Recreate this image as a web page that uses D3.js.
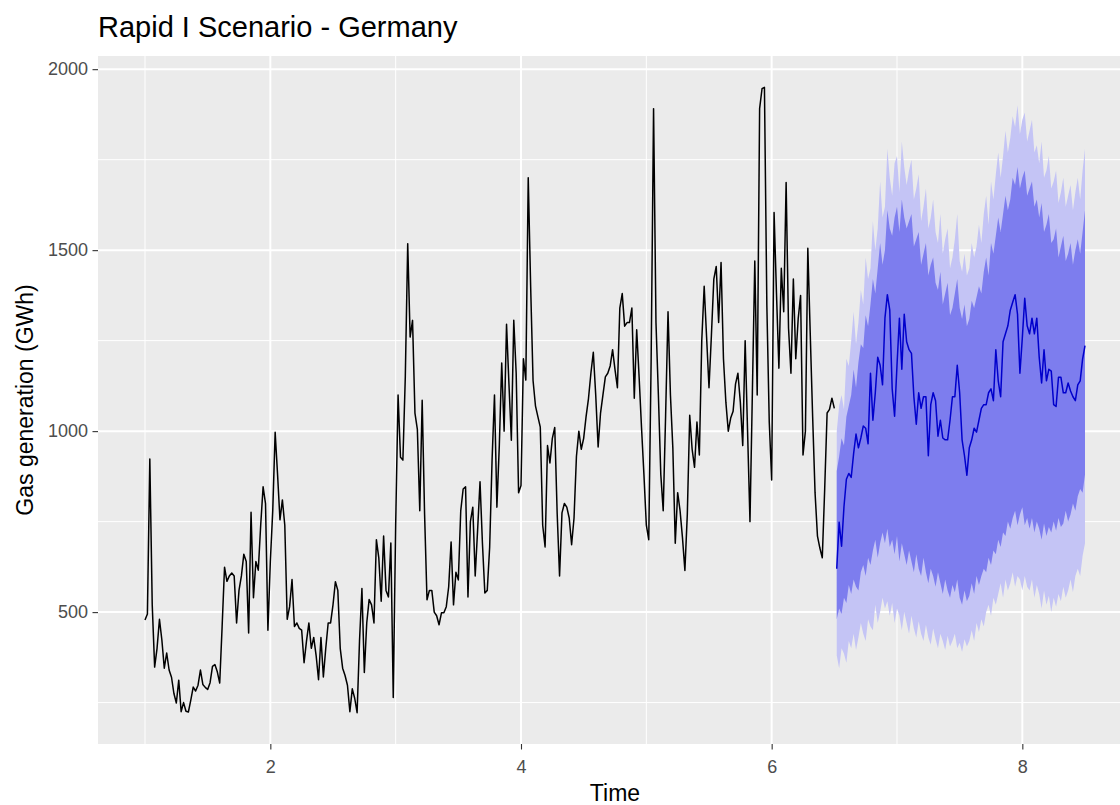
<!DOCTYPE html>
<html>
<head>
<meta charset="utf-8">
<script src="https://cdn.jsdelivr.net/npm/d3@7"></script>
<style>
  body { margin: 0; background: #ffffff; }
  svg { display: block; }
  text { font-family: "Liberation Sans", Arial, Helvetica, sans-serif; }
</style>
</head>
<body>
<svg id="chart" width="1120" height="805"></svg>
<script>
// Weekly gas generation series (frequency 52, starting at time 1)
const seriesStart = 1;
const seriesFreq = 52;

const gasHistory = [
  478, 495, 923, 520, 348, 400, 480, 423, 345, 387,
  340, 320, 275, 249, 312, 225, 250, 226, 224, 257,
  293, 282, 298, 340, 300, 292, 286, 305, 350, 355,
  335, 304, 460, 624, 585, 600, 608, 600, 470, 560,
  600, 660, 640, 442, 776, 540, 640, 616,
  740, 846, 800, 450, 640, 780, 997, 880, 755, 810,
  740, 480, 515, 590, 460, 470, 455, 450, 360, 420,
  470, 400, 430, 380, 313, 430, 321, 400, 470, 470,
  520, 584, 560, 400, 345, 325, 298, 225, 288, 262,
  222, 420, 565, 333, 470, 535, 520, 470,
  700, 650, 530, 710, 560, 542, 691, 264, 740, 1100,
  928, 920, 1150, 1518, 1260, 1306, 1050, 1005, 780, 1085,
  770, 534, 560, 560, 500, 490, 465, 498, 498, 515,
  570, 694, 520, 610, 589, 780, 840, 846, 542, 750,
  790, 600, 727, 860, 690, 553, 560, 680,
  920, 1100, 790, 960, 1188, 1000, 1295, 1130, 975, 1306,
  1160, 830, 850, 1200, 1141, 1700, 1400, 1140, 1070, 1040,
  1011, 740, 680, 960, 912, 980, 1010, 774, 600, 774,
  800, 790, 760, 686, 760, 930, 1000, 950, 980, 1040,
  1090, 1160, 1218, 1100, 956, 1050, 1100,
  1150, 1160, 1180, 1225, 1170, 1120, 1340, 1380, 1290, 1300,
  1300, 1340, 1091, 1280, 1150, 1010, 880, 740, 700, 1200,
  1891, 1300, 1100, 880, 780, 1044, 1330, 1100, 953, 690,
  830, 780, 705, 615, 770, 1044, 950, 900, 1025, 934,
  1250, 1400, 1260, 1120, 1265, 1420, 1455, 1300, 1466,
  1200, 1080, 1000, 1036, 1055, 1130, 1160, 1080, 960, 1250,
  1000, 750, 1108, 1470, 1100, 1891, 1946, 1950, 1348, 1025,
  865, 1604, 1380, 1174, 1450, 1330, 1687, 1284, 1160, 1420,
  1200, 1310, 1375, 934, 1000, 1505, 1270, 1040, 830, 710,
  677, 650, 840, 1050, 1060, 1091, 1063
];

// Two-year forecast: point forecast and 80% / 95% intervals
const fcMean = [
  620, 748, 682, 791, 867, 883, 872, 938, 992, 954,
  981, 1014, 1008, 965, 1160, 1030, 1106, 1204, 1182, 1128,
  1312, 1377, 1334, 1117, 1041, 1182, 1312, 1171, 1323, 1247,
  1225, 1215, 1095, 1019, 1106, 1063, 1095, 1095, 932, 1073,
  1106, 1084, 986, 1030, 981, 976, 976, 1030, 1095, 1095,
  1182, 1106, 976, 932, 878, 954, 976, 1008, 997, 1030,
  1063, 1073, 1073, 1106, 1117, 1084, 1225, 1139, 1095, 1247,
  1269, 1291, 1334, 1356, 1377, 1323, 1160, 1258, 1367, 1291,
  1269, 1312, 1269, 1312, 1204, 1133, 1225, 1139, 1171, 1166,
  1073, 1068, 1149, 1149, 1106, 1106, 1133, 1111, 1095, 1084,
  1128, 1139, 1199, 1236
];
const fcHi95 = [
  1000, 1070, 1100, 1060, 1200, 1180, 1250, 1330, 1240, 1300,
  1390, 1350, 1480, 1420, 1450, 1580, 1500, 1560, 1690, 1590,
  1620, 1780, 1700, 1650, 1740, 1760, 1660, 1800, 1730, 1680,
  1720, 1750, 1640, 1670, 1710, 1580, 1620, 1670, 1560, 1590,
  1640, 1550, 1520, 1600, 1490, 1530, 1560, 1450, 1480, 1530,
  1600, 1470, 1440, 1490, 1430, 1450, 1520, 1480, 1510, 1570,
  1520, 1600, 1650, 1570, 1690, 1640, 1710, 1770, 1700, 1760,
  1830, 1770, 1810, 1870, 1840, 1900, 1820, 1860, 1880, 1800,
  1830, 1860, 1770, 1790, 1740, 1800, 1700, 1720, 1760, 1670,
  1690, 1720, 1630, 1660, 1700, 1620, 1650, 1680, 1610, 1660,
  1700, 1640, 1720, 1780
];
const fcHi80 = [
  890, 930, 980, 960, 1040, 1070, 1100, 1170, 1120, 1190,
  1240, 1230, 1320, 1290, 1350, 1420, 1380, 1450, 1520, 1460,
  1500, 1610, 1560, 1540, 1590, 1620, 1550, 1640, 1590, 1560,
  1580, 1600, 1510, 1530, 1550, 1460, 1490, 1520, 1430, 1460,
  1480, 1410, 1390, 1440, 1350, 1380, 1410, 1320, 1340, 1380,
  1420, 1340, 1310, 1350, 1290, 1310, 1360, 1340, 1370, 1400,
  1380, 1440, 1480, 1430, 1520, 1490, 1540, 1590, 1550, 1600,
  1650, 1610, 1640, 1700, 1680, 1730, 1670, 1700, 1720, 1650,
  1670, 1690, 1620, 1640, 1590, 1630, 1550, 1570, 1600, 1520,
  1530, 1560, 1480, 1510, 1540, 1470, 1490, 1520, 1460, 1500,
  1530, 1490, 1550, 1610
];
const fcLo80 = [
  480, 510, 495, 540, 525, 575, 550, 590, 570, 560,
  610, 630, 600, 650, 630, 670, 700, 650, 690, 720,
  690, 730, 680, 700, 660, 710, 640, 690, 660, 630,
  670, 640, 610, 660, 620, 600, 650, 610, 580, 620,
  600, 570, 610, 580, 550, 590, 560, 540, 575, 555,
  590, 540, 520, 560, 530, 545, 580, 550, 600, 575,
  600, 620, 610, 650, 630, 670, 660, 700, 680, 720,
  710, 750, 730, 760, 780, 740, 770, 790, 740, 760,
  730, 760, 720, 750, 730, 700, 745, 710, 735, 720,
  750, 725, 760, 735, 745, 780, 750, 770, 800, 780,
  820, 840, 830, 880
];
const fcLo95 = [
  380, 345, 400, 385, 360, 420, 400, 440, 395, 430,
  470, 440, 420, 480, 460, 450, 520, 470, 500, 540,
  510, 530, 490, 525, 470, 510, 490, 450, 500, 470,
  440, 490, 455, 430, 475, 440, 420, 465, 430, 410,
  455, 425, 400, 440, 420, 395, 435, 405, 420, 440,
  400, 415, 390, 425, 405, 420, 450, 420, 470, 445,
  480, 460, 500, 520, 490, 540, 520, 550, 580, 540,
  590, 560, 580, 610, 570, 600, 590, 560, 600, 570,
  560, 590, 540, 575, 550, 510, 560, 520, 545, 500,
  540, 515, 550, 530, 570, 540, 560, 590, 555, 600,
  620, 600, 655, 690
];

const xTickValues = [2, 4, 6, 8];
const xMinorValues = [1, 3, 5, 7];
const yTickValues = [500, 1000, 1500, 2000];
const yMinorValues = [250, 750, 1250, 1750];

const titleText = "Rapid I Scenario - Germany";
const xTitle = "Time";
const yTitle = "Gas generation (GWh)";

// ---- layout ----
const panel = { left: 98, top: 56, right: 1132, bottom: 744 };
const colors = {
  panel: "#EBEBEB", grid: "#FFFFFF", history: "#000000",
  mean: "#0000CC", band80: "#7D7DEE", band95: "#C4C4F5",
  tickText: "#4D4D4D", tick: "#333333"
};

const histData = gasHistory.map((v, i) => ({ t: seriesStart + i / seriesFreq, v }));
const fcFirst = seriesStart + gasHistory.length / seriesFreq;
const fcData = fcMean.map((m, j) => ({
  t: fcFirst + j / seriesFreq, m,
  lo80: fcLo80[j], hi80: fcHi80[j], lo95: fcLo95[j], hi95: fcHi95[j]
}));

// ggplot-style 5% expansion of the data range
const expand = ([a, b]) => [a - 0.05 * (b - a), b + 0.05 * (b - a)];
const xExt = [histData[0].t, fcData[fcData.length - 1].t];
const yExt = d3.extent([...gasHistory, ...fcLo95, ...fcHi95]);

const x = d3.scaleLinear().domain(expand(xExt)).range([panel.left, panel.right]);
const y = d3.scaleLinear().domain(expand(yExt)).range([panel.bottom, panel.top]);

const svg = d3.select("#chart");

svg.append("defs").append("clipPath").attr("id", "panel-clip")
  .append("rect")
  .attr("x", panel.left).attr("y", panel.top)
  .attr("width", panel.right - panel.left).attr("height", panel.bottom - panel.top);

svg.append("rect")
  .attr("x", panel.left).attr("y", panel.top)
  .attr("width", panel.right - panel.left).attr("height", panel.bottom - panel.top)
  .attr("fill", colors.panel);

const grid = svg.append("g").attr("clip-path", "url(#panel-clip)");
grid.selectAll(".ymin").data(yMinorValues).join("line")
  .attr("x1", panel.left).attr("x2", panel.right)
  .attr("y1", d => y(d)).attr("y2", d => y(d))
  .attr("stroke", colors.grid).attr("stroke-width", 1);
grid.selectAll(".xmin").data(xMinorValues).join("line")
  .attr("y1", panel.top).attr("y2", panel.bottom)
  .attr("x1", d => x(d)).attr("x2", d => x(d))
  .attr("stroke", colors.grid).attr("stroke-width", 1);
grid.selectAll(".ymaj").data(yTickValues).join("line")
  .attr("x1", panel.left).attr("x2", panel.right)
  .attr("y1", d => y(d)).attr("y2", d => y(d))
  .attr("stroke", colors.grid).attr("stroke-width", 2);
grid.selectAll(".xmaj").data(xTickValues).join("line")
  .attr("y1", panel.top).attr("y2", panel.bottom)
  .attr("x1", d => x(d)).attr("x2", d => x(d))
  .attr("stroke", colors.grid).attr("stroke-width", 2);

const plot = svg.append("g").attr("clip-path", "url(#panel-clip)");

plot.append("path").datum(fcData)
  .attr("fill", colors.band95)
  .attr("d", d3.area().x(d => x(d.t)).y0(d => y(d.lo95)).y1(d => y(d.hi95)));
plot.append("path").datum(fcData)
  .attr("fill", colors.band80)
  .attr("d", d3.area().x(d => x(d.t)).y0(d => y(d.lo80)).y1(d => y(d.hi80)));

plot.append("path").datum(histData)
  .attr("fill", "none").attr("stroke", colors.history).attr("stroke-width", 1.5)
  .attr("stroke-linejoin", "round")
  .attr("d", d3.line().x(d => x(d.t)).y(d => y(d.v)));

plot.append("path").datum(fcData)
  .attr("fill", "none").attr("stroke", colors.mean).attr("stroke-width", 1.5)
  .attr("stroke-linejoin", "round")
  .attr("d", d3.line().x(d => x(d.t)).y(d => y(d.m)));

// ---- axes ----
const tickLen = 5.5, tickFont = 18;

const yAxis = svg.append("g")
  .attr("transform", `translate(${panel.left},0)`)
  .call(d3.axisLeft(y).tickValues(yTickValues).tickFormat(d3.format("d"))
    .tickSize(tickLen).tickPadding(4.4));
const xAxis = svg.append("g")
  .attr("transform", `translate(0,${panel.bottom})`)
  .call(d3.axisBottom(x).tickValues(xTickValues).tickFormat(d3.format("d"))
    .tickSize(tickLen).tickPadding(11));

[xAxis, yAxis].forEach(g => {
  g.select(".domain").remove();
  g.selectAll(".tick line").attr("stroke", colors.tick).attr("stroke-width", 1.1);
  g.selectAll(".tick text")
    .attr("fill", colors.tickText)
    .style("font-size", tickFont + "px")
    .style("font-family", '"Liberation Sans", Arial, sans-serif');
});

// ---- titles ----
svg.append("text")
  .attr("x", panel.left).attr("y", 37)
  .attr("fill", "#000").style("font-size", "29px")
  .text(titleText);

svg.append("text")
  .attr("x", (panel.left + panel.right) / 2).attr("y", 801)
  .attr("text-anchor", "middle")
  .attr("fill", "#000").style("font-size", "23px")
  .text(xTitle);

svg.append("text")
  .attr("transform", `translate(33,${(panel.top + panel.bottom) / 2}) rotate(-90)`)
  .attr("text-anchor", "middle")
  .attr("fill", "#000").style("font-size", "23px")
  .text(yTitle);
</script>
</body>
</html>
